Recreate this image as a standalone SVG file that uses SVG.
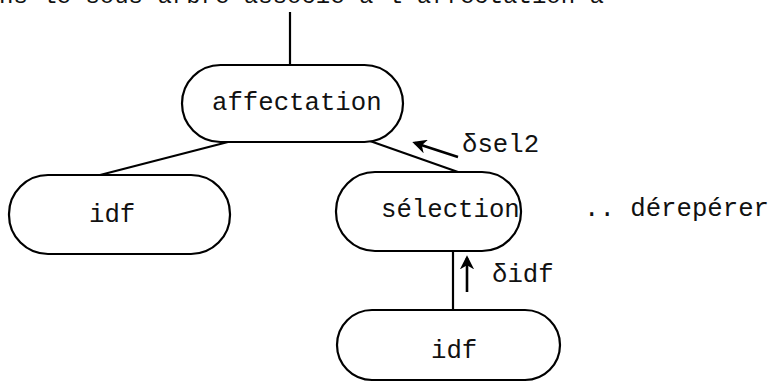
<svg xmlns="http://www.w3.org/2000/svg" width="773" height="384" viewBox="0 0 773 384">
<defs>
<style>
.n{fill:#fff;stroke:#000;stroke-width:2.2}
.t{font-family:"Liberation Mono","DejaVu Sans Mono",monospace;font-size:25.7px;fill:#111}
.e{stroke:#000;stroke-width:2.2;fill:none}
.a{stroke:#000;stroke-width:2.6;fill:none}
</style>
<marker id="ah" viewBox="0 0 10 10" refX="8" refY="5" markerWidth="5.5" markerHeight="5.5" orient="auto" markerUnits="strokeWidth">
<path d="M0,0 L10,5 L0,10 L3,5 Z" fill="#000"/>
</marker>
</defs>
<rect width="773" height="384" fill="#fff"/>
<text class="t" x="-1" y="3" style="font-size:24px">ns le sous arbre associé à l'affectation a</text>
<g id="connectors">
<line class="e" x1="290" y1="12" x2="290" y2="65"/>
<line class="e" x1="228" y1="142" x2="100" y2="175"/>
<line class="e" x1="370" y1="141" x2="458" y2="172"/>
<line class="e" x1="453" y1="251" x2="453" y2="310"/>
<line class="a" x1="458" y1="157" x2="415" y2="143" marker-end="url(#ah)"/>
<line class="a" x1="467" y1="292" x2="467" y2="258" marker-end="url(#ah)"/>
<text class="t" x="462" y="152">δsel2</text>
<text class="t" x="492" y="282">δidf</text>
</g>
<g id="affectation">
<rect class="n" x="182" y="65" width="221" height="77" rx="38.5"/>
<text class="t" x="212" y="110">affectation</text>
</g>
<g id="idf1">
<rect class="n" x="9" y="175" width="221" height="79" rx="39"/>
<text class="t" x="89" y="222">idf</text>
</g>
<g id="selection">
<rect class="n" x="336" y="172" width="185" height="79" rx="39"/>
<text class="t" x="381" y="217">sélection</text>
</g>
<text class="t" x="584" y="216">.. dérepérer</text>
<g id="idf2">
<rect class="n" x="337" y="310" width="223" height="70" rx="35"/>
<text class="t" x="431" y="358">idf</text>
</g>
</svg>
